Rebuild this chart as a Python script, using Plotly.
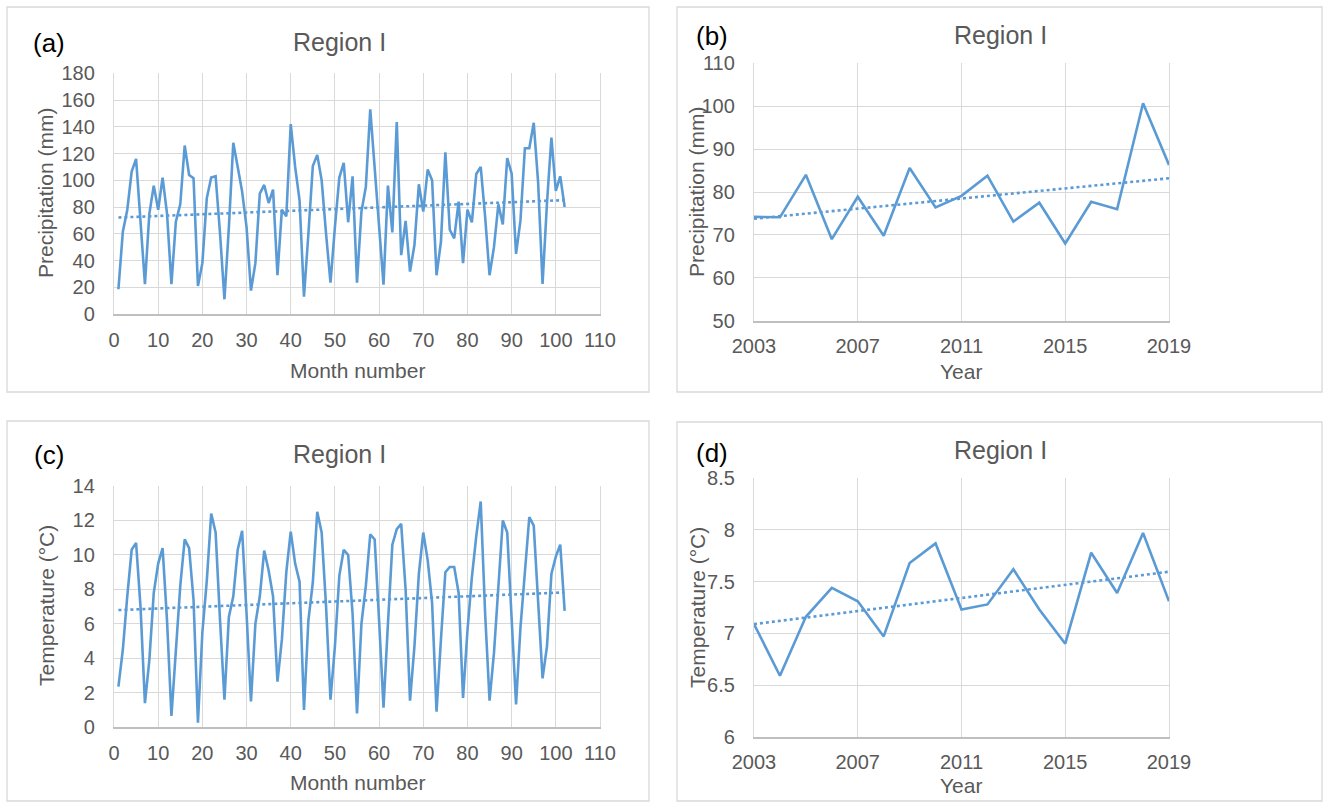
import numpy as np
import plotly.graph_objects as go

# ---------------- data ----------------
months = list(range(1, 103))
precip_monthly = [
    18.5, 61.6, 77.8, 106.5, 116, 70, 22.4, 75, 96, 78,
    102, 75, 22.4, 69, 82, 126, 104, 101.5, 21, 38,
    86.5, 102, 103, 60, 11, 65, 128, 110, 91.5, 65,
    17.5, 38, 90, 96.5, 83, 93, 29, 78, 73, 142,
    110, 85, 13, 60, 110.7, 119, 100, 60, 23.5, 65,
    102, 113, 68.6, 103, 23.5, 76.6, 95, 153, 110, 60,
    22, 96, 61, 143.6, 44, 69.6, 31.7, 51.6, 97, 76.6,
    108, 100, 29, 54, 121, 63, 56.6, 84, 38, 78,
    68.6, 104.7, 110, 72.8, 29, 50, 82, 67, 116.5, 105,
    45, 70, 124, 124, 143, 98, 22.4, 83, 132, 92,
    103, 80,
]
temp_monthly = [
    2.36, 4.5, 7.6, 10.3, 10.7, 7.0, 1.4, 3.9, 7.8, 9.5,
    10.4, 6.2, 0.66, 4.3, 8.2, 10.9, 10.4, 7.4, 0.27, 5.5,
    8.5, 12.4, 11.3, 6.2, 1.6, 6.4, 7.6, 10.3, 11.4, 6.6,
    1.5, 6.0, 7.6, 10.25, 9.1, 7.6, 2.65, 5.1, 9.0, 11.35,
    9.5, 8.45, 1.0, 6.2, 8.4, 12.5, 11.3, 7.0, 1.6, 4.7,
    8.8, 10.3, 10.0, 6.6, 0.8, 6.0, 8.2, 11.2, 10.9, 6.2,
    1.14, 6.0, 10.6, 11.5, 11.8, 8.0, 1.55, 4.7, 8.9, 11.3,
    9.7, 7.2, 0.9, 5.1, 9.0, 9.3, 9.3, 7.8, 1.7, 5.6,
    8.7, 11.1, 13.1, 6.6, 1.55, 4.3, 8.0, 12.0, 11.3, 6.0,
    1.33, 5.8, 8.9, 12.2, 11.7, 7.2, 2.84, 4.7, 8.9, 9.9,
    10.6, 6.75,
]
years = list(range(2003, 2020))
precip_annual = [74.2, 74.1, 84.0, 69.0, 78.9, 69.8, 85.6, 76.4, 79.1,
                 83.8, 73.1, 77.5, 68.0, 77.7, 76.0, 100.7, 86.3]
temp_annual = [7.09, 6.59, 7.16, 7.44, 7.31, 6.97, 7.68, 7.87, 7.23,
               7.28, 7.62, 7.23, 6.90, 7.78, 7.39, 7.97, 7.31]

month_ticks = list(range(0, 111, 10))
year_ticks = [2003, 2007, 2011, 2015, 2019]
panel_labels = ["(a)", "(b)", "(c)", "(d)"]
title_text = "Region I"
xtitles = ["Month number", "Year", "Month number", "Year"]
ytitles = ["Precipitation (mm)", "Precipitation (mm)", "Temperature (°C)", "Temperature (°C)"]

# ---------------- style ----------------
W, H = 1325, 803
LINE = "#5B9BD5"
TXT = "#595959"
GRID = "#D9D9D9"
FONT = "Liberation Sans, Arial, sans-serif"


def px_x(p):
    return p / W


def px_y(p):
    return 1 - p / H


def trend(x, y):
    c = np.polyfit(np.asarray(x, float), np.asarray(y, float), 1)
    xs = np.array([x[0], x[-1]], float)
    return xs, np.polyval(c, xs)


fig = go.Figure()

series = [
    (months, precip_monthly, "x", "y"),
    (years, precip_annual, "x2", "y2"),
    (months, temp_monthly, "x3", "y3"),
    (years, temp_annual, "x4", "y4"),
]
for xs, ys, xa, ya in series:
    fig.add_trace(go.Scatter(x=xs, y=ys, mode="lines", xaxis=xa, yaxis=ya,
                             line=dict(color=LINE, width=2.6), showlegend=False,
                             hoverinfo="x+y"))
    tx, ty = trend(xs, ys)
    fig.add_trace(go.Scatter(x=tx, y=ty, mode="lines", xaxis=xa, yaxis=ya,
                             line=dict(color=LINE, width=2.6, dash="dot"),
                             showlegend=False, hoverinfo="skip"))

# plot-area pixel geometry  (left, right, top, bottom)
areas = [
    (114, 600, 73.3, 314.0),
    (754, 1169, 63.3, 320.7),
    (114, 600, 486.0, 727.3),
    (754, 1169, 478.3, 736.7),
]
yranges = [[0, 180], [50, 110], [0, 14], [6, 8.5]]
ydticks = [20, 10, 2, 0.5]

tickfont = dict(family=FONT, size=20, color=TXT)
layout = {}
for i, (l, r, t, b) in enumerate(areas):
    sx = "" if i == 0 else str(i + 1)
    if i in (0, 2):
        xcfg = dict(range=[0, 110], tickmode="array", tickvals=month_ticks)
    else:
        xcfg = dict(range=[2003, 2019], tickmode="array", tickvals=year_ticks)
    layout["xaxis" + sx] = dict(
        domain=[px_x(l), px_x(r)], anchor="y" + sx, showgrid=True,
        gridcolor=GRID, gridwidth=1.3, zeroline=False, showline=True,
        linecolor="#BFBFBF", linewidth=1.5, ticks="", tickfont=tickfont,
        ticklabelstandoff=7, fixedrange=True, automargin=False, **xcfg)
    layout["yaxis" + sx] = dict(
        domain=[px_y(b), px_y(t)], anchor="x" + sx, range=yranges[i],
        dtick=ydticks[i], tick0=yranges[i][0], showgrid=True, gridcolor=GRID,
        gridwidth=1.3, zeroline=False, showline=True, mirror=True,
        linecolor=GRID, linewidth=1.3, ticks="", tickfont=tickfont,
        ticklabelstandoff=14, fixedrange=True, automargin=False)

# panel frames
boxes = [(7, 649, 7, 392), (677, 1322, 7, 392), (7, 649, 421, 801), (677, 1322, 422, 801)]
shapes = []
for x0, x1, y0, y1 in boxes:
    shapes.append(dict(type="rect", xref="paper", yref="paper",
                       x0=px_x(x0), x1=px_x(x1), y0=px_y(y1), y1=px_y(y0),
                       line=dict(color="#D9D9D9", width=1.3), fillcolor="rgba(0,0,0,0)",
                       layer="below"))

# annotations: panel labels, titles, axis titles
label_pos = [(49, 43), (712, 36), (49, 455), (712, 453)]
title_pos = [(339, 42), (1000, 35), (339, 454), (1000, 450)]
xt_pos = [(357, 370), (961, 371), (357, 782), (961, 785)]
yt_pos = [(46, 193), (696, 192), (46, 606), (697, 607)]
ann = []
for i in range(4):
    ann.append(dict(text=panel_labels[i], x=px_x(label_pos[i][0]), y=px_y(label_pos[i][1]),
                    xref="paper", yref="paper", showarrow=False, xanchor="center",
                    yanchor="middle", font=dict(family=FONT, size=26, color="#000000")))
    ann.append(dict(text=title_text, x=px_x(title_pos[i][0]), y=px_y(title_pos[i][1]),
                    xref="paper", yref="paper", showarrow=False, xanchor="center",
                    yanchor="middle", font=dict(family=FONT, size=25, color=TXT)))
    ann.append(dict(text=xtitles[i], x=px_x(xt_pos[i][0]), y=px_y(xt_pos[i][1]),
                    xref="paper", yref="paper", showarrow=False, xanchor="center",
                    yanchor="middle", font=dict(family=FONT, size=21, color=TXT)))
    ann.append(dict(text=ytitles[i], x=px_x(yt_pos[i][0]), y=px_y(yt_pos[i][1]),
                    xref="paper", yref="paper", showarrow=False, xanchor="center",
                    yanchor="middle", textangle=-90,
                    font=dict(family=FONT, size=21, color=TXT)))

fig.update_layout(
    width=W, height=H, margin=dict(l=0, r=0, t=0, b=0, autoexpand=False),
    paper_bgcolor="white", plot_bgcolor="white",
    shapes=shapes, annotations=ann, showlegend=False, **layout)

fig.write_html("out.html", config={"displayModeBar": False},
               post_script="document.body.style.margin='0px';"
                           "document.body.style.overflow='hidden';")
